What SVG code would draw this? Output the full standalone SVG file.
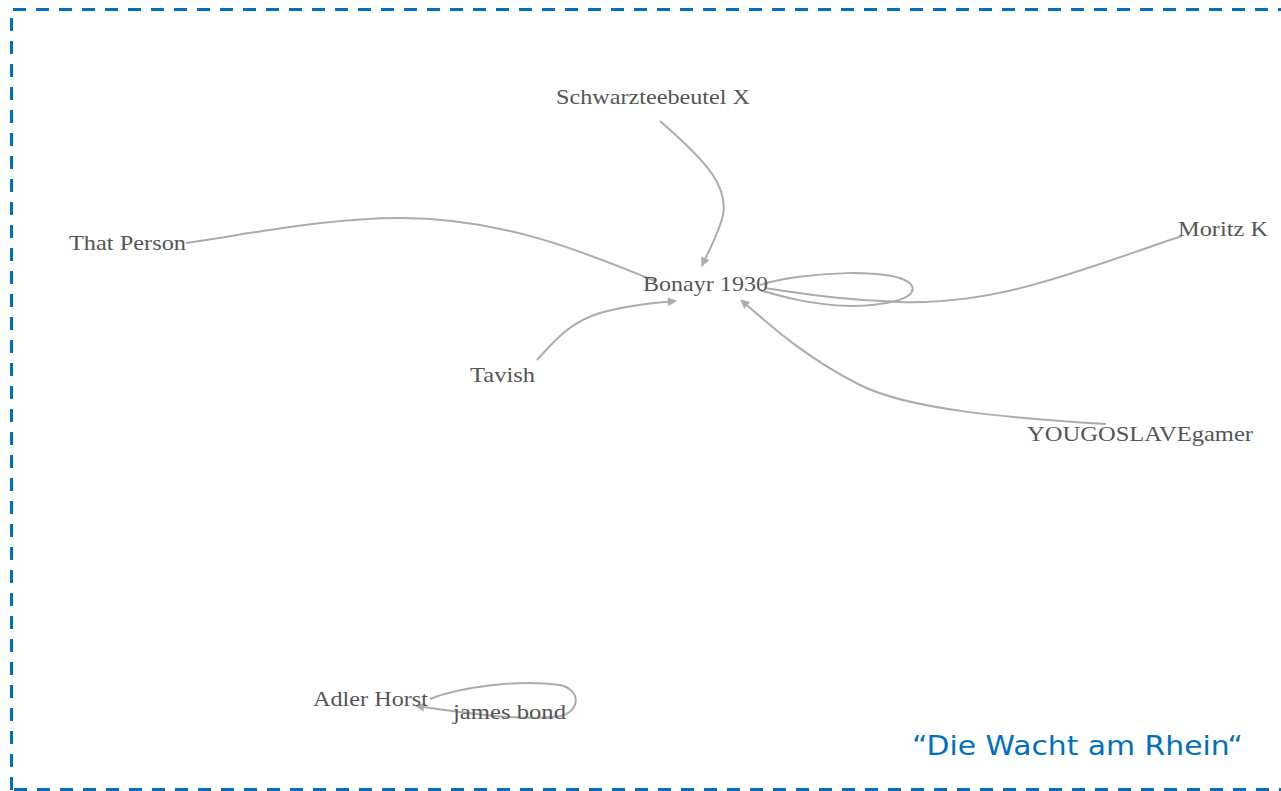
<svg xmlns="http://www.w3.org/2000/svg" width="1281" height="791" viewBox="0 0 1281 791">
  <defs>
    <marker id="arrow" viewBox="0 0 10 10" refX="9" refY="5" markerWidth="11" markerHeight="9" markerUnits="userSpaceOnUse" orient="auto">
      <path d="M0,0 L10,5 L0,10 Z" fill="#acacac"/>
    </marker>
    <style>
      .frame { fill: none; stroke: #0070c0; stroke-width: 3; stroke-dasharray: 13 10; }
      .edge { fill: none; stroke: #acacac; stroke-width: 2; }
      .lbl { font-family: "Liberation Serif", "Times New Roman", serif; font-size: 22px; fill: #555555; }
      .title { font-family: "DejaVu Sans", "Noto Sans", sans-serif; font-size: 27px; fill: #0070c0; }
    </style>
  </defs>

  <rect width="1281" height="791" fill="#ffffff"/>

  <!-- dashed frame -->
  <path class="frame" d="M11.5,790 L11.5,9.5 L1290,9.5"/>
  <path class="frame" d="M14,789.5 L1290,789.5"/>

  <!-- connectors -->
  <g id="connectors">
    <path class="edge" marker-end="url(#arrow)" d="M660,121 C705,160 735,190 720,225 C715,240 708,252 702,266"/>
    <path class="edge" d="M186,243 C260,232 330,218 400,218 C500,218 580,250 655,281"/>
    <path class="edge" d="M760,285 C800,272 900,266 912,286 C918,300 880,306 850,306 C810,305 780,296 760,290"/>
    <path class="edge" d="M1182,236 C1080,270 1000,305 900,302 C840,300 800,293 765,288"/>
    <path class="edge" marker-end="url(#arrow)" d="M537,360 C555,340 570,322 600,313 C625,306 650,303 676,301"/>
    <path class="edge" marker-end="url(#arrow)" d="M1106,424 C1010,418 910,410 860,385 C810,360 775,330 741,300"/>
    <path class="edge" marker-end="url(#arrow)" d="M430,699 C460,687 520,679 560,685 C582,690 580,712 560,716 C520,722 460,712 416,706"/>
  </g>

  <!-- nodes -->
  <g id="node-schwarzteebeutel"><text class="lbl" x="556" y="104" textLength="194" lengthAdjust="spacingAndGlyphs">Schwarzteebeutel X</text></g>
  <g id="node-that-person"><text class="lbl" x="69" y="250" textLength="117" lengthAdjust="spacingAndGlyphs">That Person</text></g>
  <g id="node-bonayr"><text class="lbl" x="643" y="291" textLength="125" lengthAdjust="spacingAndGlyphs">Bonayr 1930</text></g>
  <g id="node-moritz"><text class="lbl" x="1178" y="236" textLength="90" lengthAdjust="spacingAndGlyphs">Moritz K</text></g>
  <g id="node-tavish"><text class="lbl" x="470" y="382" textLength="65" lengthAdjust="spacingAndGlyphs">Tavish</text></g>
  <g id="node-yougoslave"><text class="lbl" x="1027" y="441" textLength="226" lengthAdjust="spacingAndGlyphs">YOUGOSLAVEgamer</text></g>
  <g id="node-adler"><text class="lbl" x="313" y="706" textLength="115" lengthAdjust="spacingAndGlyphs">Adler Horst</text></g>
  <g id="node-james"><text class="lbl" x="453" y="719" textLength="113" lengthAdjust="spacingAndGlyphs">james bond</text></g>

  <text class="title" x="912" y="755" textLength="331" lengthAdjust="spacingAndGlyphs">“Die Wacht am Rhein“</text>
</svg>
